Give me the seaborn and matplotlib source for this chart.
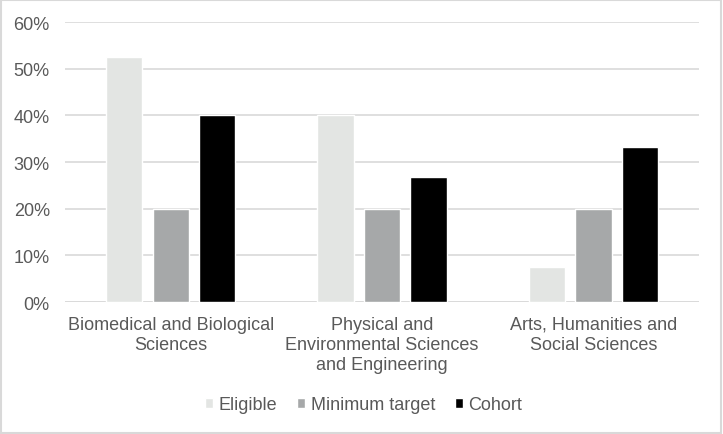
import matplotlib
matplotlib.use("Agg")
import matplotlib.pyplot as plt
import seaborn as sns
import pandas as pd
from matplotlib.patches import Rectangle
from matplotlib.ticker import PercentFormatter

categories = ["Biomedical and Biological\nSciences",
              "Physical and\nEnvironmental Sciences\nand Engineering",
              "Arts, Humanities and\nSocial Sciences"]
series = ["Eligible", "Minimum target", "Cohort"]
eligible = [52.4, 40.0, 7.5]
minimum_target = [20.0, 20.0, 20.0]
cohort = [40.0, 26.7, 33.3]
colors = ["#E2E6E3", "#A5A8AA", "#000000"]

df = pd.DataFrame({
    "category": categories * 3,
    "series": [s for s in series for _ in categories],
    "value": eligible + minimum_target + cohort,
})

sns.set_style("white")
plt.rcParams["font.family"] = ["Liberation Sans", "DejaVu Sans"]

fig = plt.figure(figsize=(7.23, 4.35), dpi=100)
ax = fig.add_axes([0.09, 0.3034, 0.877, 0.6437])

sns.barplot(data=df, x="category", y="value", hue="series", hue_order=series,
            palette=colors, width=0.66, gap=0.22, ax=ax, legend=True)

ax.set_ylim(0, 60)
ax.set_yticks(range(0, 61, 10))
ax.yaxis.set_major_formatter(PercentFormatter(decimals=0))
ax.grid(axis="y", color="#D9D9D9", linewidth=1.2)
ax.set_axisbelow(True)
for s in ax.spines.values():
    s.set_visible(False)
ax.axhline(0, color="#D9D9D9", linewidth=1.2, zorder=0)
ax.set_xlabel("")
ax.set_ylabel("")
ax.tick_params(axis="both", length=0, labelsize=13, colors="#595959")
ax.tick_params(axis="x", pad=10)
ax.tick_params(axis="y", pad=11)
for lbl in ax.get_xticklabels():
    lbl.set_linespacing(1.25)

handles, labels = ax.get_legend_handles_labels()
ax.legend(handles, labels, loc="center", bbox_to_anchor=(0.503, 0.067),
          bbox_transform=fig.transFigure, ncol=3,
          frameon=False, fontsize=13, labelcolor="#595959", handlelength=0.45,
          handleheight=0.45, handletextpad=0.3, columnspacing=1.1)

fig.patches.append(Rectangle((0.002, 0.003), 0.995, 0.994, transform=fig.transFigure,
                             fill=False, edgecolor="#D9D9D9", linewidth=1.5))

fig.savefig("out.png", dpi=100)
